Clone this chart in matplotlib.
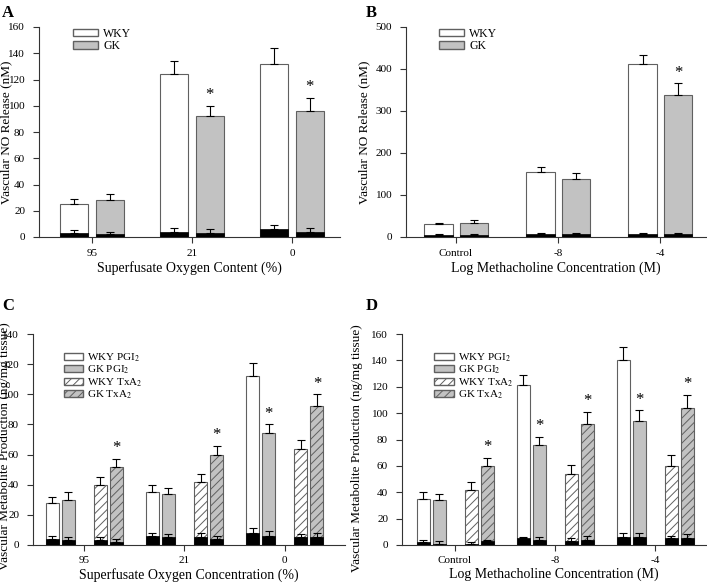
import numpy as np
import matplotlib
matplotlib.use('Agg')
import matplotlib.pyplot as plt
from matplotlib.patches import Patch

plt.rcParams['font.family'] = ['Liberation Serif', 'DejaVu Serif']
plt.rcParams['mathtext.fontset'] = 'stix'
plt.rcParams['hatch.linewidth'] = 0.7

# ---- panel A: NO release vs oxygen
a_cats = ['95', '21', '0']
a_wky = [25, 124, 132]
a_wky_err = [4, 10, 12]
a_gk = [28, 92, 96]
a_gk_err = [5, 8, 10]
a_wky_base = [3, 4, 6]
a_wky_base_err = [2, 3, 3]
a_gk_base = [2, 3, 4]
a_gk_base_err = [2, 3, 3]
a_sig = [False, True, True]

# ---- panel B: NO release vs methacholine
b_cats = ['Control', '-8', '-4']
b_wky = [30, 155, 412]
b_wky_err = [4, 12, 21]
b_gk = [33, 139, 339]
b_gk_err = [7, 13, 27]
b_wky_base = [5, 7, 8]
b_wky_base_err = [3, 3, 2]
b_gk_base = [4, 6, 7]
b_gk_base_err = [3, 3, 2]
b_sig = [False, False, True]

# ---- panel C: metabolites vs oxygen (WKY PGI2, GK PGI2, WKY TxA2, GK TxA2)
c_cats = ['95', '21', '0']
c_vals = [[28, 35, 112], [30, 34, 74], [40, 42, 64], [52, 60, 92]]
c_errs = [[4, 5, 9], [5, 4, 6], [5, 5, 6], [5, 6, 8]]
c_base = [[4, 6, 8], [3, 5, 6], [3, 5, 5], [2, 4, 5]]
c_base_err = [[2, 2, 3], [2, 2, 3], [2, 3, 2], [2, 2, 3]]
c_sig = [[False, False, False], [False, False, True],
         [False, False, False], [True, True, True]]

# ---- panel D: metabolites vs methacholine
d_cats = ['Control', '-8', '-4']
d_vals = [[35, 121, 140], [34, 76, 94], [42, 54, 60], [60, 92, 104]]
d_errs = [[5, 8, 10], [5, 6, 8], [6, 7, 8], [6, 9, 10]]
d_base = [[2, 5, 6], [1, 4, 6], [1, 3, 5], [3, 4, 5]]
d_base_err = [[2, 1, 3], [2, 2, 3], [1, 2, 2], [1, 3, 3]]
d_sig = [[False, False, False], [False, True, True],
         [False, False, False], [True, True, True]]

two_names = ['WKY', 'GK']
four_names = ['WKY PGI$_2$', 'GK PGI$_2$', 'WKY TxA$_2$', 'GK TxA$_2$']

GRAY = '#c2c2c2'
EDGE = '#606060'
styles4 = [dict(color='white', hatch=None),
           dict(color=GRAY, hatch=None),
           dict(color='white', hatch='////'),
           dict(color=GRAY, hatch='////')]

fig = plt.figure(figsize=(7.07, 5.84), dpi=100)
W, H = 707, 584


def add_ax(x0, x1, ytop, ybot):
    return fig.add_axes([x0 / W, (H - ybot) / H, (x1 - x0) / W, (ybot - ytop) / H])


def draw_group(ax, x, vals, errs, base, base_err, sig, width, style, star_off):
    ax.bar(x, vals, width, color=style['color'], edgecolor=EDGE, linewidth=0.8,
           hatch=style['hatch'], zorder=2)
    ax.errorbar(x, vals, yerr=[np.zeros(len(vals)), errs], fmt='none',
                ecolor='black', elinewidth=0.8, capsize=3, capthick=0.8, zorder=3)
    ax.bar(x, base, width, color='black', edgecolor='black', linewidth=0.5, zorder=4)
    ax.errorbar(x, base, yerr=[np.zeros(len(base)), base_err], fmt='none',
                ecolor='black', elinewidth=0.8, capsize=3, capthick=0.8, zorder=3)
    for xi, v, e, s in zip(x, vals, errs, sig):
        if s:
            ax.annotate('*', (xi, v + e), xytext=(0, star_off), textcoords='offset points',
                        ha='center', va='bottom', fontsize=12)


def style_ax(ax, cats, xlim, ylim, yticks, xlabel, ylabel, letter, lx, ly, xpad):
    ax.set_xlim(*xlim)
    ax.set_ylim(*ylim)
    ax.set_yticks(yticks)
    ax.set_xticks(range(len(cats)))
    ax.set_xticklabels(cats)
    for s in ['top', 'right']:
        ax.spines[s].set_visible(False)
    for s in ['left', 'bottom']:
        ax.spines[s].set_linewidth(0.8)
        ax.spines[s].set_color('#333333')
    ax.tick_params(direction='out', length=4, width=0.8, labelsize=8, pad=6,
                   color='#333333')
    ax.tick_params(axis='x', pad=xpad)
    ax.set_xlabel(xlabel, fontsize=10, labelpad=2)
    ax.set_ylabel(ylabel, fontsize=9.5)
    fig.text(lx / W, 1 - ly / H, letter, fontsize=12, fontweight='bold',
             ha='left', va='center')


def legend2(ax, anchor):
    ax.legend([Patch(facecolor='white', edgecolor=EDGE), Patch(facecolor=GRAY, edgecolor=EDGE)],
              two_names, loc='upper left', bbox_to_anchor=anchor, frameon=False,
              fontsize=8.5, handlelength=2.1, handleheight=0.6, labelspacing=0.05,
              handletextpad=0.45, borderaxespad=0)


def legend4(ax, anchor):
    handles = [Patch(facecolor=s['color'], edgecolor=EDGE, hatch=s['hatch'])
               for s in styles4]
    ax.legend(handles, four_names, loc='upper left', bbox_to_anchor=anchor,
              frameon=False, fontsize=8, handlelength=1.75, handleheight=0.6,
              labelspacing=0.0, handletextpad=0.35, borderaxespad=0)


x = np.arange(3)

# A
axA = add_ax(39, 340, 27, 237)
draw_group(axA, x - 0.18, a_wky, a_wky_err, a_wky_base, a_wky_base_err,
           [False] * 3, 0.28, styles4[0], 2)
draw_group(axA, x + 0.175, a_gk, a_gk_err, a_gk_base, a_gk_base_err,
           a_sig, 0.28, styles4[1], 2)
style_ax(axA, a_cats, (-0.53, 2.48), (0, 160), range(0, 161, 20),
         'Superfusate Oxygen Content (%)', 'Vascular NO Release (nM)', 'A', 2, 13, 5)
axA.yaxis.set_label_coords(-0.09, 0.5)
legend2(axA, (0.098, 1.02))

# B
axB = add_ax(406, 706, 27, 237)
draw_group(axB, x - 0.17, b_wky, b_wky_err, b_wky_base, b_wky_base_err,
           [False] * 3, 0.28, styles4[0], 2)
draw_group(axB, x + 0.175, b_gk, b_gk_err, b_gk_base, b_gk_base_err,
           b_sig, 0.28, styles4[1], 2)
style_ax(axB, b_cats, (-0.49, 2.45), (0, 500), range(0, 501, 100),
         'Log Methacholine Concentration (M)', 'Vascular NO Release (nM)', 'B', 366, 13, 5)
axB.yaxis.set_label_coords(-0.12, 0.5)
legend2(axB, (0.095, 1.02))

offs = [-0.32, -0.16, 0.16, 0.32]

# C
axC = add_ax(33, 345, 334, 545)
for k in range(4):
    draw_group(axC, x + offs[k], c_vals[k], c_errs[k], c_base[k], c_base_err[k],
               c_sig[k], 0.13, styles4[k], 2)
style_ax(axC, c_cats, (-0.51, 2.6), (0, 140), range(0, 141, 20),
         'Superfusate Oxygen Concentration (%)',
         'Vascular Metabolite Production (ng/mg tissue)', 'C', 2, 306, 4)
axC.yaxis.set_label_coords(-0.07, 0.47)
legend4(axC, (0.085, 0.94))

# D
axD = add_ax(402, 706, 334, 545)
for k in range(4):
    draw_group(axD, x + offs[k], d_vals[k], d_errs[k], d_base[k], d_base_err[k],
               d_sig[k], 0.13, styles4[k], 2)
style_ax(axD, d_cats, (-0.53, 2.51), (0, 160), range(0, 161, 20),
         'Log Methacholine Concentration (M)',
         'Vascular Metabolite Production (ng/mg tissue)', 'D', 366, 306, 4)
axD.yaxis.set_label_coords(-0.128, 0.46)
legend4(axD, (0.092, 0.94))

fig.savefig('out.png', dpi=100)
